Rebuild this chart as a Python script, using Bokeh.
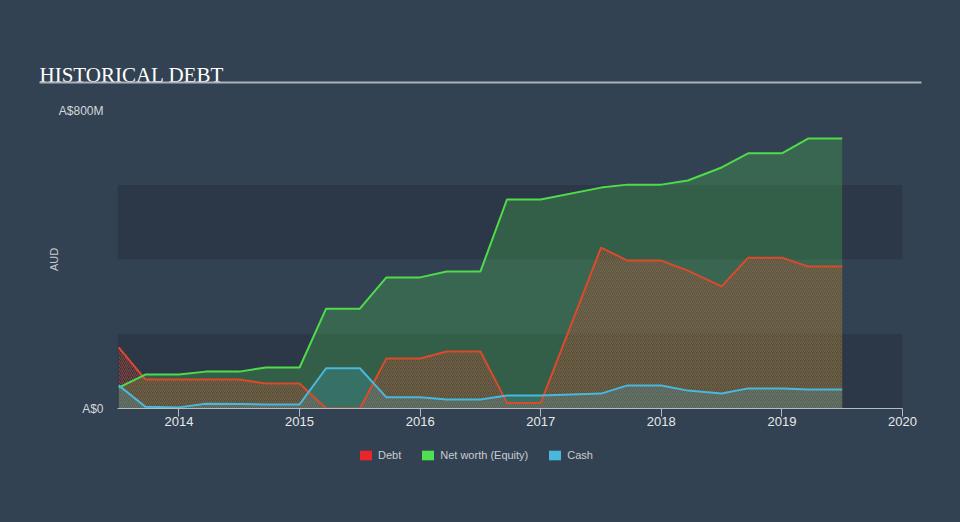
import re
from bokeh.plotting import figure
from bokeh.layouts import column
from bokeh.models import (ColumnDataSource, FixedTicker, BoxAnnotation,
                          Legend, LegendItem, Range1d)
from bokeh.core.properties import value
from bokeh.embed import file_html
from bokeh.resources import INLINE

# ---- data (A$ millions) ----
dates = [2013.5, 2013.72, 2014.0, 2014.22, 2014.5, 2014.72, 2015.0, 2015.22,
         2015.5, 2015.72, 2016.0, 2016.22, 2016.5, 2016.72, 2017.0, 2017.5,
         2017.72, 2018.0, 2018.22, 2018.5, 2018.72, 2019.0, 2019.22, 2019.5]
debt = [164, 78, 78, 78, 78, 67, 67, 0, 0, 134, 134, 153, 153, 15, 15, 432,
        397, 397, 370, 328, 405, 405, 381, 381]
equity = [56, 91, 91, 99, 99, 110, 110, 268, 268, 352, 352, 368, 368, 561,
          561, 593, 601, 601, 612, 647, 685, 685, 725, 725]
cash = [62, 5, 3, 13, 12, 11, 11, 108, 108, 30, 30, 24, 24, 35, 35, 40, 62,
        62, 48, 40, 54, 54, 51, 51]
zeros = [0] * len(dates)

x_ticks = [2014, 2015, 2016, 2017, 2018, 2019, 2020]
x_tick_labels = ["2014", "2015", "2016", "2017", "2018", "2019", "2020"]
y_ticks = [0, 800]
y_tick_labels = ["A$0", "A$800M"]
series_names = ["Debt", "Net worth (Equity)", "Cash"]
title_text = "HISTORICAL DEBT"
y_title = "AUD"

BG = "#334252"
RED = "#e8262a"
GREEN = "#4fe04f"
BLUE = "#4ab8dc"
SANS = "Liberation Sans"
W = 960
H_HEAD = 96
H_MAIN = 344
H_FOOT = 522 - H_HEAD - H_MAIN


def style_fig(f):
    f.background_fill_color = BG
    f.border_fill_color = BG
    f.outline_line_color = None
    f.grid.visible = False
    if "frame_align" in f.properties():
        f.frame_align = False


def blank(h):
    f = figure(width=W, height=h, output_backend="svg", toolbar_location=None,
               x_range=Range1d(0, W), y_range=Range1d(h, 0),
               x_axis_type=None, y_axis_type=None, min_border=0)
    style_fig(f)
    return f


# ---- header: title + rule ----
head = blank(H_HEAD)
head.text(x=[39], y=[74], text=[title_text], text_font=value("Liberation Serif"),
          text_font_size="21px", text_color="#ffffff",
          text_baseline="alphabetic", text_align="left")
head.segment(x0=[39], y0=[82], x1=[921], y1=[82], line_color="#aab1b9", line_width=2)

# ---- main chart ----
src = ColumnDataSource(dict(x=dates, debt=debt, equity=equity, cash=cash, zero=zeros))

p = figure(width=W, height=H_MAIN, output_backend="svg", toolbar_location=None,
           x_range=Range1d(2013.49, 2020.0), y_range=Range1d(0, 800),
           min_border_left=117, min_border_right=58, min_border_top=14,
           min_border_bottom=32)
style_fig(p)

for lo, hi in [(0, 200), (400, 600)]:
    p.add_layout(BoxAnnotation(bottom=lo, top=hi, fill_color="#2c3848",
                               fill_alpha=1.0, line_color=None, level="underlay"))

p.varea(x="x", y1="zero", y2="equity", source=src, fill_color=GREEN, fill_alpha=0.23)
p.varea(x="x", y1="zero", y2="debt", source=src, fill_alpha=0.0,
        hatch_pattern="/", hatch_color="#e0442a", hatch_alpha=0.6,
        hatch_scale=4, hatch_weight=1)
p.varea(x="x", y1="zero", y2="cash", source=src, fill_color=BLUE, fill_alpha=0.2)

p.line(x="x", y="debt", source=src, line_color="#dc4a2b", line_width=2)
p.line(x="x", y="equity", source=src, line_color="#4fdc4a", line_width=2)
p.line(x="x", y="cash", source=src, line_color=BLUE, line_width=2)

xa = p.xaxis[0]
xa.ticker = FixedTicker(ticks=x_ticks)
xa.major_label_overrides = {t: l for t, l in zip(x_ticks, x_tick_labels)}
xa.axis_line_color = "#b4bac2"
xa.axis_line_width = 1
xa.major_tick_line_color = "#b4bac2"
xa.major_tick_out = 8
xa.major_tick_in = 0
xa.minor_tick_line_color = None
xa.major_label_standoff = 0
xa.major_label_text_font = SANS
xa.major_label_text_font_size = "13px"
xa.major_label_text_color = "#e6e8eb"

ya = p.yaxis[0]
ya.ticker = FixedTicker(ticks=y_ticks)
ya.major_label_overrides = {t: l for t, l in zip(y_ticks, y_tick_labels)}
ya.axis_line_color = None
ya.major_tick_line_color = None
ya.major_tick_out = 0
ya.major_tick_in = 0
ya.minor_tick_line_color = None
ya.major_label_standoff = 14
ya.major_label_text_font = SANS
ya.major_label_text_font_size = "12px"
ya.major_label_text_color = "#d4d8dc"
ya.axis_label = y_title
ya.axis_label_text_font = SANS
ya.axis_label_text_font_size = "11px"
ya.axis_label_text_font_style = "normal"
ya.axis_label_text_color = "#c8ccd1"
ya.axis_label_standoff = -4

# ---- footer: legend ----
foot = blank(H_FOOT)
items = []
for name, col in zip(series_names, [RED, GREEN, BLUE]):
    r = foot.quad(left=[-20], right=[-10], top=[-20], bottom=[-10],
                  fill_color=col, line_color=None)
    items.append(LegendItem(label=name, renderers=[r]))
legend = Legend(items=items, location=(358, H_FOOT - 21), orientation="horizontal",
                label_text_font=SANS, label_text_font_size="11px",
                label_text_color="#c8ccd1", background_fill_alpha=0,
                border_line_color=None, padding=0, margin=0, spacing=19,
                glyph_width=15, glyph_height=12, label_standoff=5,
                label_height=12, label_width=10)
foot.add_layout(legend)

layout = column(head, p, foot, spacing=0)
html = file_html(layout, INLINE)
page_style = "<style>html,body{margin:0;padding:0;background:%s !important;}</style>" % BG
if "</head>" in html:
    html = html.replace("</head>", page_style + "</head>", 1)
else:
    html = re.sub(r"<body[^>]*>", lambda m: m.group(0) + page_style, html, count=1)
open("out.html", "w").write(html)
